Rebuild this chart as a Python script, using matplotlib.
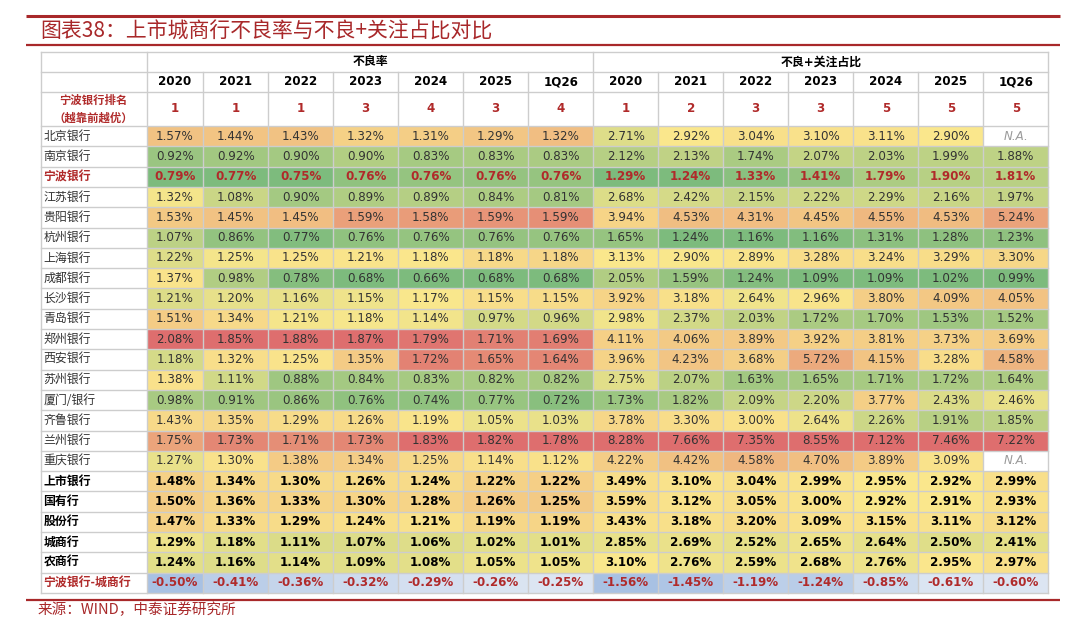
import numpy as np
import matplotlib
matplotlib.use("Agg")
import matplotlib.pyplot as plt
from matplotlib.patches import Rectangle

plt.rcParams['font.family'] = ['DejaVu Sans', 'Noto Sans CJK SC']

# ---------------- data ----------------
banks = ["北京银行", "南京银行", "宁波银行", "江苏银行", "贵阳银行", "杭州银行", "上海银行",
         "成都银行", "长沙银行", "青岛银行", "郑州银行", "西安银行", "苏州银行", "厦门/银行",
         "齐鲁银行", "兰州银行", "重庆银行"]
aggregates = ["上市银行", "国有行", "股份行", "城商行", "农商行"]
diff_label = "宁波银行-城商行"
periods = ["2020", "2021", "2022", "2023", "2024", "2025", "1Q26"]
section_titles = ["不良率", "不良+关注占比"]
rank_label = "宁波银行排名\n（越靠前越优）"
rank_npl = [1, 1, 1, 3, 4, 3, 4]
rank_npl_sm = [1, 2, 3, 3, 5, 5, 5]

npl_banks = [
    [1.57, 1.44, 1.43, 1.32, 1.31, 1.29, 1.32],
    [0.92, 0.92, 0.90, 0.90, 0.83, 0.83, 0.83],
    [0.79, 0.77, 0.75, 0.76, 0.76, 0.76, 0.76],
    [1.32, 1.08, 0.90, 0.89, 0.89, 0.84, 0.81],
    [1.53, 1.45, 1.45, 1.59, 1.58, 1.59, 1.59],
    [1.07, 0.86, 0.77, 0.76, 0.76, 0.76, 0.76],
    [1.22, 1.25, 1.25, 1.21, 1.18, 1.18, 1.18],
    [1.37, 0.98, 0.78, 0.68, 0.66, 0.68, 0.68],
    [1.21, 1.20, 1.16, 1.15, 1.17, 1.15, 1.15],
    [1.51, 1.34, 1.21, 1.18, 1.14, 0.97, 0.96],
    [2.08, 1.85, 1.88, 1.87, 1.79, 1.71, 1.69],
    [1.18, 1.32, 1.25, 1.35, 1.72, 1.65, 1.64],
    [1.38, 1.11, 0.88, 0.84, 0.83, 0.82, 0.82],
    [0.98, 0.91, 0.86, 0.76, 0.74, 0.77, 0.72],
    [1.43, 1.35, 1.29, 1.26, 1.19, 1.05, 1.03],
    [1.75, 1.73, 1.71, 1.73, 1.83, 1.82, 1.78],
    [1.27, 1.30, 1.38, 1.34, 1.25, 1.14, 1.12],
]
npl_aggr = [
    [1.48, 1.34, 1.30, 1.26, 1.24, 1.22, 1.22],
    [1.50, 1.36, 1.33, 1.30, 1.28, 1.26, 1.25],
    [1.47, 1.33, 1.29, 1.24, 1.21, 1.19, 1.19],
    [1.29, 1.18, 1.11, 1.07, 1.06, 1.02, 1.01],
    [1.24, 1.16, 1.14, 1.09, 1.08, 1.05, 1.05],
]
npl_diff = [-0.50, -0.41, -0.36, -0.32, -0.29, -0.26, -0.25]

nan = np.nan
sm_banks = [
    [2.71, 2.92, 3.04, 3.10, 3.11, 2.90, nan],
    [2.12, 2.13, 1.74, 2.07, 2.03, 1.99, 1.88],
    [1.29, 1.24, 1.33, 1.41, 1.79, 1.90, 1.81],
    [2.68, 2.42, 2.15, 2.22, 2.29, 2.16, 1.97],
    [3.94, 4.53, 4.31, 4.45, 4.55, 4.53, 5.24],
    [1.65, 1.24, 1.16, 1.16, 1.31, 1.28, 1.23],
    [3.13, 2.90, 2.89, 3.28, 3.24, 3.29, 3.30],
    [2.05, 1.59, 1.24, 1.09, 1.09, 1.02, 0.99],
    [3.92, 3.18, 2.64, 2.96, 3.80, 4.09, 4.05],
    [2.98, 2.37, 2.03, 1.72, 1.70, 1.53, 1.52],
    [4.11, 4.06, 3.89, 3.92, 3.81, 3.73, 3.69],
    [3.96, 4.23, 3.68, 5.72, 4.15, 3.28, 4.58],
    [2.75, 2.07, 1.63, 1.65, 1.71, 1.72, 1.64],
    [1.73, 1.82, 2.09, 2.20, 3.77, 2.43, 2.46],
    [3.78, 3.30, 3.00, 2.64, 2.26, 1.91, 1.85],
    [8.28, 7.66, 7.35, 8.55, 7.12, 7.46, 7.22],
    [4.22, 4.42, 4.58, 4.70, 3.89, 3.09, nan],
]
sm_aggr = [
    [3.49, 3.10, 3.04, 2.99, 2.95, 2.92, 2.99],
    [3.59, 3.12, 3.05, 3.00, 2.92, 2.91, 2.93],
    [3.43, 3.18, 3.20, 3.09, 3.15, 3.11, 3.12],
    [2.85, 2.69, 2.52, 2.65, 2.64, 2.50, 2.41],
    [3.10, 2.76, 2.59, 2.68, 2.76, 2.95, 2.97],
]
sm_diff = [-1.56, -1.45, -1.19, -1.24, -0.85, -0.61, -0.60]

# ---------------- style ----------------
GREEN = np.array([125, 187, 125]) / 255
YELLOW = np.array([250, 231, 140]) / 255
RED = np.array([222, 110, 110]) / 255
BLUE_LIGHT = np.array([220, 229, 242]) / 255
BLUE_DARK = np.array([168, 193, 227]) / 255
GRID = "#CDCDCD"
DARKRED = "#B02A2A"
TITLE_RED = "#A8282A"
TXT = "#333333"

def three_scale(v, lo, mid, hi):
    if v <= mid:
        t = 0.0 if mid == lo else (v - lo) / (mid - lo)
        return GREEN + (YELLOW - GREEN) * t
    t = 0.0 if hi == mid else (v - mid) / (hi - mid)
    return YELLOW + (RED - YELLOW) * t

def two_scale(v, lo, hi):
    # lo (most negative) -> dark blue, hi -> light
    t = (v - lo) / (hi - lo)
    return BLUE_DARK + (BLUE_LIGHT - BLUE_DARK) * t

# ---------------- layout ----------------
W, H = 1080, 626
fig = plt.figure(figsize=(W / 100, H / 100), dpi=100)
ax = fig.add_axes([0, 0, 1, 1])
ax.set_xlim(0, W)
ax.set_ylim(H, 0)
ax.axis("off")

x_left = 40.7
label_w = 106.0
first_w = 56.6
col_w = 65.0
ncols = len(periods) * 2
col_edges = [x_left, x_left + label_w, x_left + label_w + first_w]
for i in range(ncols - 1):
    col_edges.append(col_edges[-1] + col_w)
x_right = col_edges[-1]

y_top = 51.7
head_h = [20.0, 20.0, 34.3]
row_h = 20.3
nrows = len(banks) + len(aggregates) + 1
row_edges = [y_top]
for h in head_h:
    row_edges.append(row_edges[-1] + h)
for i in range(nrows):
    row_edges.append(row_edges[-1] + row_h)
y_bottom = row_edges[-1]

FS = 8.6

# ---------- title & decorative lines ----------
ax.plot([26, 1060], [15.5, 15.5], color=TITLE_RED, lw=2.2, solid_capstyle="butt")
ax.plot([26, 1060], [44.7, 44.7], color=TITLE_RED, lw=1.6, solid_capstyle="butt")
ax.text(40, 31.5, "图表38：上市城商行不良率与不良+关注占比对比", fontsize=15,
        color=TITLE_RED, ha="left", va="center", style="italic",
        family=["Noto Sans CJK SC", "DejaVu Sans"])
ax.plot([26, 1060], [599.5, 599.5], color=TITLE_RED, lw=1.6, solid_capstyle="butt")
ax.text(38, 610, "来源：WIND，中泰证券研究所", fontsize=10.5, color=TITLE_RED,
        ha="left", va="center", family=["Noto Sans CJK SC", "DejaVu Sans"])

# ---------- cell backgrounds ----------
all_npl = np.array(npl_banks + npl_aggr, dtype=float)
all_sm = np.array(sm_banks + sm_aggr, dtype=float)
sections = [(all_npl, npl_diff), (all_sm, sm_diff)]

for s, (mat, diff) in enumerate(sections):
    for j in range(len(periods)):
        colvals = mat[:, j]
        valid = colvals[~np.isnan(colvals)]
        lo, mid, hi = valid.min(), np.percentile(valid, 50), valid.max()
        cidx = 1 + s * len(periods) + j
        x0, x1 = col_edges[cidx], col_edges[cidx + 1]
        for i, v in enumerate(colvals):
            r = 3 + i
            y0, y1 = row_edges[r], row_edges[r + 1]
            fc = "white" if np.isnan(v) else three_scale(v, lo, mid, hi)
            ax.add_patch(Rectangle((x0, y0), x1 - x0, y1 - y0, facecolor=fc,
                                   edgecolor="none", zorder=1))
        dlo, dhi = min(diff), max(diff)
        r = 3 + len(mat)
        y0, y1 = row_edges[r], row_edges[r + 1]
        ax.add_patch(Rectangle((x0, y0), x1 - x0, y1 - y0,
                               facecolor=two_scale(diff[j], dlo, dhi),
                               edgecolor="none", zorder=1))

# ---------- grid lines ----------
lw = 1.0
for k, y in enumerate(row_edges):
    ax.plot([x_left, x_right], [y, y], color=GRID, lw=lw, zorder=2)
for k, x in enumerate(col_edges):
    if k in (0, 1, len(periods) + 1, len(col_edges) - 1):
        ax.plot([x, x], [y_top, y_bottom], color=GRID, lw=lw, zorder=2)
    else:
        ax.plot([x, x], [row_edges[1], y_bottom], color=GRID, lw=lw, zorder=2)

# ---------- header text ----------
def cx(c):
    return (col_edges[c] + col_edges[c + 1]) / 2

def cy(r):
    return (row_edges[r] + row_edges[r + 1]) / 2

for s, title in enumerate(section_titles):
    xa = col_edges[1 + s * len(periods)]
    xb = col_edges[1 + (s + 1) * len(periods)]
    ax.text((xa + xb) / 2, cy(0), title, ha="center", va="center",
            fontsize=FS, fontweight="bold", color="black", zorder=3)
    for j, p in enumerate(periods):
        c = 1 + s * len(periods) + j
        ax.text(cx(c), cy(1), p, ha="center", va="center", fontsize=FS,
                fontweight="bold", color="black", zorder=3)
        rk = (rank_npl if s == 0 else rank_npl_sm)[j]
        ax.text(cx(c), cy(2), str(rk), ha="center", va="center", fontsize=FS,
                fontweight="bold", color=DARKRED, zorder=3)
ax.text(cx(0), cy(2), rank_label, ha="center", va="center", fontsize=8.2,
        fontweight="bold", color=DARKRED, linespacing=1.5, zorder=3,
        family=["Noto Sans CJK SC", "DejaVu Sans"])

# ---------- body text ----------
row_labels = banks + aggregates + [diff_label]
for i, name in enumerate(row_labels):
    r = 3 + i
    is_nb = name == "宁波银行"
    is_aggr = name in aggregates
    is_diff = name == diff_label
    if is_nb or is_diff:
        lc, lwgt = DARKRED, "bold"
    elif is_aggr:
        lc, lwgt = "black", "bold"
    else:
        lc, lwgt = TXT, "normal"
    ax.text(x_left + 2.8, cy(r), name, ha="left", va="center", fontsize=FS,
            color=lc, fontweight=lwgt, zorder=3,
            family=["Noto Sans CJK SC", "DejaVu Sans"])
    for s, (mat, diff) in enumerate(sections):
        for j in range(len(periods)):
            c = 1 + s * len(periods) + j
            v = diff[j] if is_diff else mat[i, j]
            if np.isnan(v):
                ax.text(cx(c), cy(r), "N.A.", ha="center", va="center",
                        fontsize=FS, color="#9A9A9A", style="italic", zorder=3)
                continue
            txt = f"{v:.2f}%"
            if is_nb or is_diff:
                ax.text(cx(c), cy(r), txt, ha="center", va="center", fontsize=FS,
                        color=DARKRED, fontweight="bold", zorder=3)
            elif is_aggr:
                ax.text(cx(c), cy(r), txt, ha="center", va="center", fontsize=FS,
                        color="black", fontweight="bold", zorder=3)
            else:
                ax.text(cx(c), cy(r), txt, ha="center", va="center", fontsize=FS,
                        color=TXT, zorder=3)

fig.savefig("out.png", dpi=100, facecolor="white")
